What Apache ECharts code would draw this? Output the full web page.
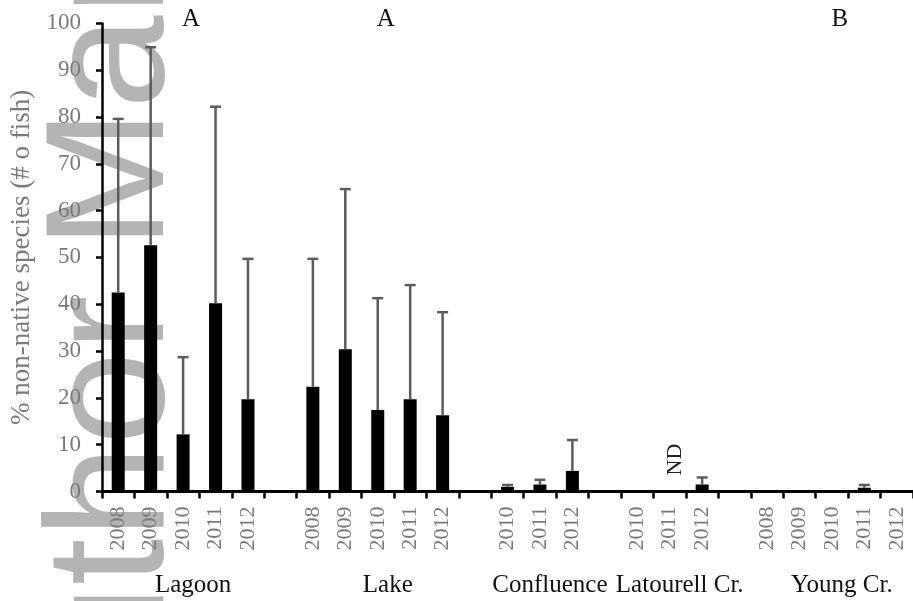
<!DOCTYPE html>
<html>
<head>
<meta charset="utf-8">
<script src="https://cdn.jsdelivr.net/npm/echarts@6/dist/echarts.min.js"></script>
<style>
  html, body { margin: 0; padding: 0; background: #ffffff; }
  #chart { width: 913px; height: 601px; }
</style>
</head>
<body>
<div id="chart"></div>
<script>
// Sites sampled and the years surveyed at each one
const siteNames = ['Lagoon', 'Lake', 'Confluence', 'Latourell Cr.', 'Young Cr.'];
const siteYears = [
  ['2008', '2009', '2010', '2011', '2012'],
  ['2008', '2009', '2010', '2011', '2012'],
  ['2010', '2011', '2012'],
  ['2010', '2011', '2012'],
  ['2008', '2009', '2010', '2011', '2012']
];
// Mean % non-native species (by number of fish); null = no data
const siteMeans = [
  [42.5, 52.6, 12.2, 40.2, 19.7],
  [22.4, 30.4, 17.4, 19.7, 16.3],
  [1.0, 1.5, 4.4],
  [0, null, 1.5],
  [0, 0, 0, 0.8, 0]
];
// Standard deviation (upper error bar)
const siteSD = [
  [37.1, 42.3, 16.5, 42.0, 30.0],
  [27.3, 34.2, 23.9, 24.4, 22.0],
  [0.4, 1.0, 6.6],
  [0, null, 1.5],
  [0, 0, 0, 0.6, 0]
];
// Significance groupings above each site
const siteLetters = ['A', 'A', '', '', 'B'];
const noDataText = 'ND';
const yTicks = { min: 0, max: 100, step: 10 };
const yTitle = '% non-native species (# o fish)';
const watermark = 'Author Manuscript';

// Flatten into one category axis with an empty slot between sites
const categories = [];
const barValues = [];
const errorData = [];
const groupRanges = [];
const noDataCats = [];
siteNames.forEach((site, s) => {
  const start = categories.length;
  siteYears[s].forEach((yr, k) => {
    const idx = categories.length;
    categories.push(site + '|' + yr);
    const m = siteMeans[s][k];
    barValues.push(m);
    if (m === null) noDataCats.push(idx);
    const sd = siteSD[s][k];
    if (m !== null && sd > 0) errorData.push([idx, m, m + sd]);
  });
  groupRanges.push([start, categories.length - 1]);
  if (s < siteNames.length - 1) {
    categories.push('gap' + s);
    barValues.push(null);
  }
});

const serif = '"Liberation Serif", "Times New Roman", serif';
const gray = '#7a7a7a';

const chart = echarts.init(document.getElementById('chart'), null, { renderer: 'canvas' });

const option = {
  animation: false,
  backgroundColor: '#ffffff',
  grid: { left: 102, top: 23.4, width: 812.5, bottom: 109.5, containLabel: false },
  xAxis: {
    type: 'category',
    data: categories,
    boundaryGap: true,
    axisLine: { show: true, lineStyle: { color: '#000', width: 3 } },
    axisTick: { show: true, interval: 0, length: 7, lineStyle: { color: '#000', width: 2.5 } },
    axisLabel: {
      interval: 0,
      rotate: 90,
      margin: 15,
      color: gray,
      fontFamily: serif,
      fontSize: 22,
      formatter: v => (v.indexOf('|') >= 0 ? v.split('|')[1] : '')
    },
    splitLine: { show: false }
  },
  yAxis: {
    type: 'value',
    min: yTicks.min,
    max: yTicks.max,
    interval: yTicks.step,
    name: yTitle,
    nameLocation: 'middle',
    nameRotate: 90,
    nameGap: 66,
    nameTextStyle: { color: gray, fontFamily: serif, fontSize: 27 },
    axisLine: { show: true, lineStyle: { color: '#000', width: 2.5 } },
    axisTick: { show: true, length: 6, lineStyle: { color: '#000', width: 2.5 } },
    axisLabel: { color: gray, fontFamily: serif, fontSize: 23, margin: 21 },
    splitLine: { show: false }
  },
  series: [
    {
      type: 'bar',
      data: barValues,
      barWidth: 13,
      itemStyle: { color: '#000' },
      z: 3
    },
    {
      type: 'custom',
      data: errorData,
      z: 4,
      renderItem: (params, api) => {
        const x = api.value(0);
        const lo = api.coord([x, api.value(1)]);
        const hi = api.coord([x, api.value(2)]);
        const half = 5.5;
        const st = { stroke: '#5c5c5c', lineWidth: 2.5 };
        return {
          type: 'group',
          children: [
            { type: 'line', shape: { x1: lo[0], y1: lo[1], x2: hi[0], y2: hi[1] }, style: st },
            { type: 'line', shape: { x1: hi[0] - half, y1: hi[1], x2: hi[0] + half, y2: hi[1] }, style: st }
          ]
        };
      }
    }
  ]
};
chart.setOption(option);

// Text placed relative to the category axis
const graphics = [
  {
    type: 'text',
    x: 117, y: 109,
    rotation: Math.PI / 2,
    z: -5,
    silent: true,
    style: {
      text: watermark,
      fontFamily: '"Liberation Sans", Arial, sans-serif',
      fontSize: 168,
      fill: '#b4b4b4',
      align: 'center',
      verticalAlign: 'middle'
    }
  }
];
groupRanges.forEach((r, s) => {
  const x0 = chart.convertToPixel({ xAxisIndex: 0 }, categories[r[0]]);
  const x1 = chart.convertToPixel({ xAxisIndex: 0 }, categories[r[1]]);
  const cx = (x0 + x1) / 2 + 10;
  graphics.push({
    type: 'text', x: cx, y: 585,
    style: { text: siteNames[s], fontFamily: serif, fontSize: 25, fill: '#111', align: 'center', verticalAlign: 'middle' }
  });
  if (siteLetters[s]) {
    graphics.push({
      type: 'text', x: cx - 2, y: 19,
      style: { text: siteLetters[s], fontFamily: serif, fontSize: 25, fill: '#111', align: 'center', verticalAlign: 'middle' }
    });
  }
});
noDataCats.forEach(idx => {
  const p = chart.convertToPixel({ xAxisIndex: 0, yAxisIndex: 0 }, [idx, 0]);
  graphics.push({
    type: 'text', x: p[0] + 6, y: p[1] - 32,
    rotation: Math.PI / 2,
    style: { text: noDataText, fontFamily: serif, fontSize: 22, fill: '#222', align: 'center', verticalAlign: 'middle' }
  });
});
chart.setOption({ graphic: graphics });
</script>
</body>
</html>
